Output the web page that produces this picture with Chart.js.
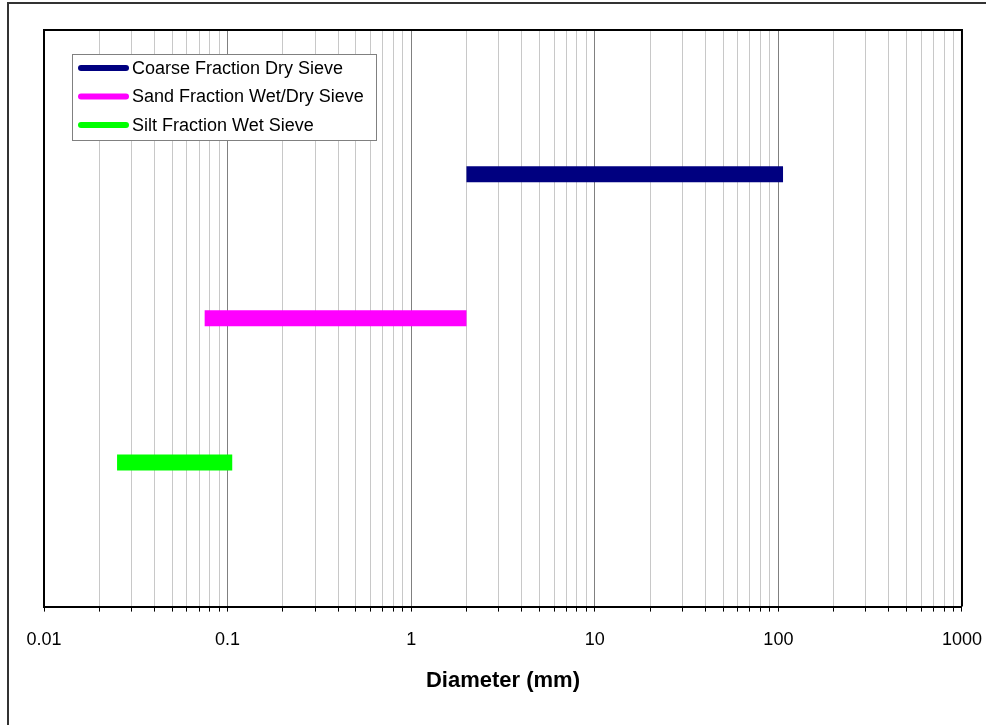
<!DOCTYPE html>
<html>
<head>
<meta charset="utf-8">
<script src="https://cdn.jsdelivr.net/npm/chart.js@4/dist/chart.umd.min.js"></script>
<style>
  body { margin: 0; background: #fff; }
  canvas { display: block; }
</style>
</head>
<body>
<canvas id="myChart" width="986" height="725"></canvas>
<script>
// sieve ranges (mm)
const seriesNames = ['Coarse Fraction Dry Sieve', 'Sand Fraction Wet/Dry Sieve', 'Silt Fraction Wet Sieve'];
const seriesLevel = [3, 2, 1];
const rangeFrom = [2, 0.075, 0.025];
const rangeTo = [106, 2, 0.106];
const tickLabels = ['0.01', '0.1', '1', '10', '100', '1000'];

const colors = ['#000080', '#ff00ff', '#00ff00'];
const FONT = "'Liberation Sans', Arial, sans-serif";

function isDecade(v) {
  const l = Math.log10(v);
  return Math.abs(l - Math.round(l)) < 1e-9;
}

// frame + plot border + legend box
const framePlugin = {
  id: 'frame',
  afterDraw(chart) {
    const ctx = chart.ctx;
    const a = chart.chartArea;
    ctx.save();
    ctx.strokeStyle = '#333';
    ctx.lineWidth = 2;
    ctx.beginPath();
    ctx.moveTo(8, 725);
    ctx.lineTo(8, 3);
    ctx.lineTo(986, 3);
    ctx.stroke();

    ctx.strokeStyle = '#000';
    ctx.lineWidth = 2;
    ctx.beginPath();
    ctx.moveTo(a.left, a.top);
    ctx.lineTo(a.right, a.top);
    ctx.lineTo(a.right, a.bottom);
    ctx.stroke();

    // legend
    ctx.fillStyle = '#fff';
    ctx.fillRect(72, 54, 304, 86);
    ctx.strokeStyle = '#808080';
    ctx.lineWidth = 1;
    ctx.strokeRect(72.5, 54.5, 304, 86);
    ctx.font = '18px ' + FONT;
    ctx.textBaseline = 'middle';
    chart.data.datasets.forEach((ds, i) => {
      const y = 68 + i * 28.5;
      ctx.strokeStyle = ds.borderColor;
      ctx.lineWidth = 6;
      ctx.lineCap = 'round';
      ctx.beginPath();
      ctx.moveTo(81, y);
      ctx.lineTo(126, y);
      ctx.stroke();
      ctx.fillStyle = '#000';
      ctx.fillText(ds.label, 132, y + 1);
    });
    ctx.restore();
  }
};

const ctx = document.getElementById('myChart');

new Chart(ctx, {
  type: 'line',
  data: {
    datasets: seriesNames.map((name, i) => ({
      label: name,
      data: [
        { x: rangeFrom[i], y: seriesLevel[i] },
        { x: rangeTo[i], y: seriesLevel[i] }
      ],
      borderColor: colors[i],
      backgroundColor: colors[i],
      borderWidth: 16,
      borderCapStyle: 'butt',
      pointRadius: 0,
      fill: false
    }))
  },
  options: {
    responsive: false,
    animation: false,
    layout: { padding: { left: 44, right: 24, top: 30, bottom: 31 } },
    plugins: {
      legend: { display: false },
      tooltip: { enabled: false }
    },
    scales: {
      x: {
        type: 'logarithmic',
        min: 0.01,
        max: 1000,
        afterBuildTicks(scale) {
          const t = [];
          for (let e = -2; e <= 2; e++) {
            for (let m = 1; m <= 9; m++) {
              t.push({ value: Number((m * Math.pow(10, e)).toPrecision(3)) });
            }
          }
          t.push({ value: 1000 });
          scale.ticks = t;
        },
        ticks: {
          autoSkip: false,
          maxRotation: 0,
          padding: 4,
          color: '#000',
          font: { family: FONT, size: 18, lineHeight: 2.667 },
          callback(v) {
            return isDecade(v) ? tickLabels[Math.round(Math.log10(v)) + 2] : '';
          }
        },
        grid: {
          color: c => (c.tick && isDecade(c.tick.value)) ? '#808080' : '#c8c8c8',
          lineWidth: 1,
          tickColor: '#000',
          tickLength: 5
        },
        border: { display: true, color: '#000', width: 2 },
        title: {
          display: true,
          text: 'Diameter (mm)',
          color: '#000',
          font: { family: FONT, size: 22, weight: 'bold', lineHeight: 1.2 },
          padding: { top: 0, bottom: 0 }
        }
      },
      y: {
        min: 0,
        max: 4,
        ticks: { display: false },
        grid: { display: false, drawTicks: false },
        border: { display: true, color: '#000', width: 2 }
      }
    }
  },
  plugins: [framePlugin]
});
</script>
</body>
</html>
